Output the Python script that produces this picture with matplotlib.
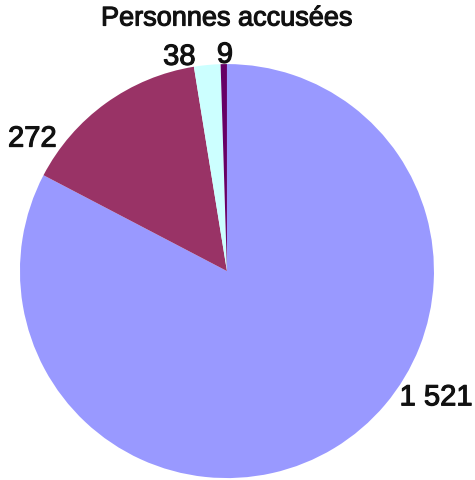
import matplotlib
matplotlib.use('Agg')
import matplotlib.pyplot as plt
import matplotlib.patheffects as pe

# data
categories = ['A', 'B', 'C', 'D']
values = [1521, 272, 38, 9]
value_labels = ['1 521', '272', '38', '9']
colors = ['#9999FF', '#993366', '#CCFFFF', '#660066']
title = 'Personnes accusées'

# label positions (in pie radius units)
label_pos = [(1.01, -0.61), (-0.94, 0.64), (-0.23, 1.035), (-0.01, 1.045)]

plt.rcParams['font.family'] = ['Liberation Sans', 'DejaVu Sans']

# regular font thickened a little, like the blurred original
thick = [pe.withStroke(linewidth=0.8, foreground='#111111')]

fig = plt.figure(figsize=(4.75, 4.81), dpi=100)
ax = fig.add_axes([0.042, 0.004, 0.8716, 0.8607])
ax.pie(values, colors=colors, startangle=90, counterclock=False,
       radius=1.0, wedgeprops=dict(linewidth=0))
ax.set_xlim(-1, 1)
ax.set_ylim(-1, 1)
ax.set_aspect('equal')
ax.axis('off')

for (x, y), lab in zip(label_pos, value_labels):
    ax.text(x, y, lab, ha='center', va='center', fontsize=21,
            color='#111111', clip_on=False, path_effects=thick)

ax.text(0, 1.22, title, ha='center', va='center', fontsize=19.5,
        color='#111111', clip_on=False, path_effects=thick)

fig.savefig('out.png', dpi=100, facecolor='white')
